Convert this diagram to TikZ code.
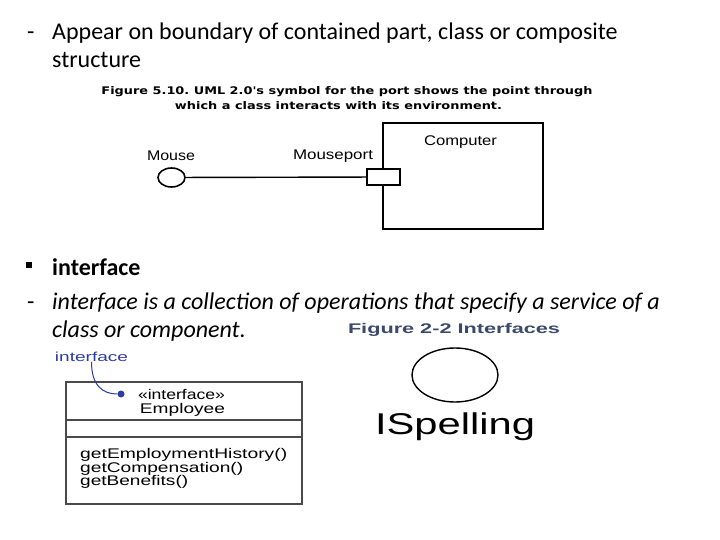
\documentclass[tikz,border=0pt]{standalone}
\usepackage{fontspec}
\setmainfont{Carlito}
\newfontfamily\arialf{Liberation Sans}
\newfontfamily\verdf{DejaVu Sans}
\usetikzlibrary{shapes.geometric}
\frenchspacing
\definecolor{capblue}{HTML}{3B4A6B}
\definecolor{noteblue}{HTML}{2E3DA6}
\definecolor{boxgray}{HTML}{4A4A4A}
% stretch a text sideways to a given width, height unchanged
\newcommand{\fitw}[2]{\resizebox{#1pt}{\height}{#2}}
\tikzset{
  slide/.style={font=\fontsize{24}{28}\selectfont,anchor=base west,inner sep=0pt},
  figtxt/.style={font=\arialf\fontsize{14}{14}\selectfont,inner sep=0pt},
  capt/.style={font=\verdf\bfseries\fontsize{10.5}{11}\selectfont,inner sep=0pt},
  meth/.style={figtxt,anchor=west},
}

\begin{document}
\begin{tikzpicture}[x=1pt,y=-1pt]
\useasboundingbox[fill=white] (0,0) rectangle (720,540);
% slide text
\node[slide] (dasha) at (27,40) {-};
\node[slide] (linea) at (52,40) {Appear on boundary of contained part, class or composite};
\node[slide] (lineb) at (52,68) {structure};
\fill (26,262) rectangle (32,268);
\node[slide,font=\fontsize{24}{28}\selectfont\bfseries] (head) at (52,275) {interface};
\node[slide] (dashb) at (27,309) {-};
\node[slide,font=\fontsize{24}{28}\selectfont\itshape] (linec) at (52,309)
  {interface is a collection of operations that specify a service of a};
\node[slide,font=\fontsize{24}{28}\selectfont\itshape] (lined) at (52,337) {class or component.};

% port figure
\node[capt] (capa) at (347,92) {\fitw{491}{Figure 5.10. UML 2.0's symbol for the port shows the point through}};
\node[capt] (capb) at (338.5,106) {\fitw{327}{which a class interacts with its environment.}};
\node[figtxt] (mlab) at (171,156) {\fitw{48}{Mouse}};
\node[figtxt] (plab) at (333,156) {\fitw{80}{Mouseport}};
\node[draw,line width=2pt,minimum width=160pt,minimum height=106pt,inner sep=0pt] (comp) at (463,176) {};
\node[figtxt] (clab) at (460.5,142) {\fitw{73}{Computer}};
\node[draw,ellipse,line width=1.6pt,minimum width=27pt,minimum height=19pt,inner sep=0pt] (mouse) at (171.5,177.5) {};
\node[draw,fill=white,line width=1.6pt,minimum width=33pt,minimum height=16pt,inner sep=0pt] (port) at (383.5,177) {};
\draw[line width=1.4pt] (mouse) -- (port);

% interface figures
\node[figtxt,font=\arialf\bfseries\fontsize{14}{14}\selectfont,text=capblue] (capc) at (454,330) {\fitw{212}{Figure 2-2 Interfaces}};
\node[draw,ellipse,line width=1.4pt,minimum width=86pt,minimum height=54pt,inner sep=0pt] (spell) at (455,375) {};
\node[figtxt,font=\arialf\fontsize{30}{30}\selectfont] (slab) at (455,427) {\fitw{160}{ISpelling}};

\node[draw=boxgray,line width=1.5pt,minimum width=236pt,minimum height=122pt,inner sep=0pt] (emp) at (184,443) {};
\draw[boxgray,line width=1.5pt] (66,420) -- (302,420);
\draw[boxgray,line width=1.5pt] (66,437) -- (302,437);
\node[figtxt] (stereo) at (181.5,394) {\fitw{87}{«interface»}};
\node[figtxt] (ename) at (182.5,410) {\fitw{85}{Employee}};
\node[meth] (ma) at (80,455) {\fitw{207}{getEmploymentHistory()}};
\node[meth] (mb) at (80,468.5) {\fitw{163}{getCompensation()}};
\node[meth] (mc) at (80,482) {\fitw{108}{getBenefits()}};
\node[figtxt,font=\arialf\fontsize{13}{13}\selectfont,text=noteblue] (ilab) at (91.5,357) {\fitw{73}{interface}};
\node[circle,fill=noteblue,inner sep=0pt,minimum size=7pt] (idot) at (121,394) {};
\draw[noteblue,line width=1pt] (ilab.south) .. controls +(0,24) and +(-18,0) .. (idot);
\end{tikzpicture}
\end{document}
